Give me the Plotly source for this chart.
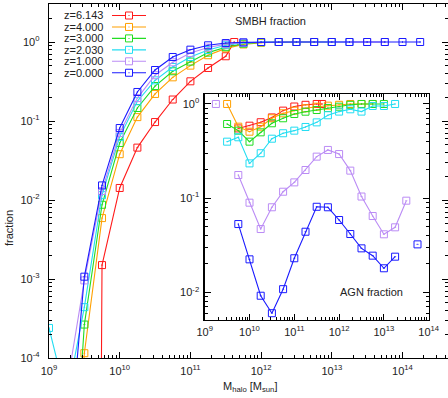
import plotly.graph_objects as go

# ---------------- data (log10 halo mass, fraction) ----------------
labels = ["z=6.143", "z=4.000", "z=3.000", "z=2.030", "z=1.000", "z=0.000"]
colors = ["#ff1a1a", "#ffa000", "#22dd22", "#22ddf2", "#bb8cf5", "#1a1aff"]

# main panel: SMBH fraction
smbh_m_z6 = [9.5, 9.75, 10.0, 10.25, 10.5, 10.75, 11.0, 11.25, 11.5, 11.62]
smbh_f_z6 = [1e-40, 1.5e-3, 0.0142, 0.046, 0.097, 0.187, 0.318, 0.469, 0.66, 1.0]

smbh_m_z4 = [9.25, 9.5, 9.75, 10.0, 10.25, 10.5, 10.75, 11.0, 11.25, 11.5, 11.75, 12.0, 12.25, 12.5, 12.75]
smbh_f_z4 = [1e-8, 1.15e-4, 5.9e-3, 0.038, 0.112, 0.22, 0.357, 0.502, 0.68, 0.83, 0.93, 0.98, 1.0, 1.0, 1.0]

smbh_m_z3 = [9.25, 9.5, 9.75, 10.0, 10.25, 10.5, 10.75, 11.0, 11.25, 11.5, 11.75, 12.0, 12.25, 12.5, 12.75, 13.0]
smbh_f_z3 = [1e-7, 2.65e-4, 8.7e-3, 0.0527, 0.146, 0.277, 0.426, 0.565, 0.734, 0.86, 0.95, 0.99, 1.0, 1.0, 1.0, 1.0]

smbh_m_z2 = [9.0, 9.25, 9.5, 9.75, 10.0, 10.25, 10.5, 10.75, 11.0, 11.25, 11.5, 11.75, 12.0, 12.25, 12.5, 12.75, 13.0, 13.25]
smbh_f_z2 = [2.4e-4, 3e-5, 4.4e-4, 0.0115, 0.063, 0.178, 0.327, 0.483, 0.646, 0.79, 0.91, 0.97, 1.0, 1.0, 1.0, 1.0, 1.0, 1.0]

smbh_m_z1 = [9.25, 9.5, 9.75, 10.0, 10.25, 10.5, 10.75, 11.0, 11.25, 11.5, 11.75, 12.0, 12.25, 12.5, 12.75, 13.0, 13.25, 13.5, 13.75]
smbh_f_z1 = [4.2e-5, 9.6e-4, 0.013, 0.0705, 0.195, 0.38, 0.553, 0.726, 0.85, 0.94, 0.98, 1.0, 1.0, 1.0, 1.0, 1.0, 1.0, 1.0, 1.0]

smbh_m_z0 = [9.25, 9.5, 9.75, 10.0, 10.25, 10.5, 10.75, 11.0, 11.25, 11.5, 11.75, 12.0, 12.25, 12.5, 12.75, 13.0, 13.25, 13.5, 13.75, 14.0, 14.25]
smbh_f_z0 = [2.85e-6, 1.07e-3, 0.0153, 0.0815, 0.233, 0.442, 0.646, 0.80, 0.908, 0.97, 0.99, 1.0, 1.0, 1.0, 1.0, 1.0, 1.0, 1.0, 1.0, 1.0, 1.0]

# inset: AGN fraction
agn_m_z6 = [9.75, 10.0, 10.25, 10.5, 10.75, 11.0, 11.25, 11.5, 11.62]
agn_f_z6 = [0.55, 0.588, 0.64, 0.72, 0.85, 0.94, 0.98, 1.0, 1.0]

agn_m_z4 = [9.5, 9.75, 10.0, 10.25, 10.5, 10.75, 11.0, 11.25, 11.5, 11.75, 12.0, 12.25, 12.5, 12.75]
agn_f_z4 = [1.0, 0.574, 0.508, 0.574, 0.705, 0.796, 0.849, 0.90, 0.936, 0.96, 0.98, 1.0, 1.0, 1.0]

agn_m_z3 = [9.5, 9.75, 10.0, 10.25, 10.5, 10.75, 11.0, 11.25, 11.5, 11.75, 12.0, 12.25, 12.5, 12.75, 13.0]
agn_f_z3 = [0.613, 0.521, 0.398, 0.50, 0.624, 0.705, 0.783, 0.828, 0.863, 0.907, 0.936, 0.98, 1.0, 1.0, 1.0]

agn_m_z2 = [9.5, 9.75, 10.0, 10.25, 10.5, 10.75, 11.0, 11.25, 11.5, 11.75, 12.0, 12.25, 12.5, 12.75, 13.0, 13.25]
agn_f_z2 = [0.398, 0.443, 0.234, 0.30, 0.428, 0.489, 0.521, 0.57, 0.638, 0.759, 0.83, 0.878, 0.83, 0.952, 0.952, 1.0]

agn_m_z1 = [9.25, 9.5, 9.75, 10.0, 10.25, 10.5, 10.75, 11.0, 11.25, 11.5, 11.75, 12.0, 12.25, 12.5, 12.75, 13.0, 13.25, 13.5]
agn_f_z1 = [1.0, None, 0.176, 0.0895, 0.047, 0.080, 0.117, 0.147, 0.199, 0.276, 0.325, 0.294, 0.196, 0.104, 0.0646, 0.0413, 0.049, 0.094]

agn_m_z0 = [9.75, 10.0, 10.25, 10.5, 10.75, 11.0, 11.25, 11.5, 11.75, 12.0, 12.25, 12.5, 12.75, 13.0, 13.25, 13.5, 13.75]
agn_f_z0 = [0.0531, 0.0224, 0.0092, 0.006, 0.0108, 0.023, 0.044, 0.081, 0.080, 0.0586, 0.0416, 0.0293, 0.0245, 0.018, 0.0239, None, 0.0323]

main_tick_exp = [9, 10, 11, 12, 13, 14]
main_ytick_exp = [-4, -3, -2, -1, 0]
inset_tick_exp = [9, 10, 11, 12, 13, 14]
inset_ytick_exp = [-2, -1, 0]

smbh_sets = [(smbh_m_z6, smbh_f_z6), (smbh_m_z4, smbh_f_z4), (smbh_m_z3, smbh_f_z3),
             (smbh_m_z2, smbh_f_z2), (smbh_m_z1, smbh_f_z1), (smbh_m_z0, smbh_f_z0)]
agn_sets = [(agn_m_z6, agn_f_z6), (agn_m_z4, agn_f_z4), (agn_m_z3, agn_f_z3),
            (agn_m_z2, agn_f_z2), (agn_m_z1, agn_f_z1), (agn_m_z0, agn_f_z0)]

FONT = "Liberation Sans, Arial, sans-serif"
W, H = 448, 398
L, R, T, B = 49, 0, 4, 40
PW, PH = W - L - R, H - T - B

fig = go.Figure()

mk = dict(symbol="square-open-dot", size=7, line=dict(width=1))
for (m, f), c, lab in zip(smbh_sets, colors, labels):
    fig.add_trace(go.Scatter(x=[10 ** v for v in m], y=f, mode="lines+markers",
                             line=dict(color=c, width=1.1), marker=dict(color=c, **mk),
                             name=lab, showlegend=False, hoverinfo="skip", xaxis="x", yaxis="y"))
for (m, f), c, lab in zip(agn_sets, colors, labels):
    fig.add_trace(go.Scatter(x=[10 ** v for v in m], y=f, mode="lines+markers",
                             line=dict(color=c, width=1.1), marker=dict(color=c, **mk),
                             name=lab, showlegend=False, connectgaps=False, hoverinfo="skip",
                             xaxis="x2", yaxis="y2"))


def minor_vals(lo, hi):
    out = []
    for e in range(lo, hi + 1):
        for k in range(2, 10):
            out.append(k * 10 ** e)
    return out


def sup(e):
    return "10<sup>%d</sup>" % e


axcommon = dict(type="log", showline=True, linecolor="black", linewidth=1.3,
                mirror="ticks", ticks="inside", ticklen=6, tickwidth=1, tickcolor="black",
                showgrid=False, zeroline=False, automargin=False,
                tickfont=dict(family=FONT, size=11, color="#222"))

fig.update_layout(
    width=W, height=H, autosize=False,
    margin=dict(l=L, r=R, t=T, b=B, pad=0, autoexpand=False),
    paper_bgcolor="white", plot_bgcolor="white",
    showlegend=False,
    xaxis=dict(axcommon, range=[9, 9 + PW / 70.7], domain=[0, 1], anchor="y",
               tickvals=[10 ** e for e in main_tick_exp], ticktext=[sup(e) for e in main_tick_exp],
               minor=dict(ticks="inside", ticklen=3, tickcolor="black", tickvals=minor_vals(9, 14)),
               ticklabelstandoff=2),
    yaxis=dict(axcommon, range=[-4, -4 + PH / 79.0], domain=[0, 1], anchor="x",
               tickvals=[10 ** e for e in main_ytick_exp], ticktext=[sup(e) for e in main_ytick_exp],
               minor=dict(ticks="inside", ticklen=3, tickcolor="black", tickvals=minor_vals(-4, 0)),
               ticklabelstandoff=6),
    xaxis2=dict(axcommon, range=[9, 14], domain=[(204.7 - L) / PW, (428.7 - L) / PW], anchor="y2",
                tickvals=[10 ** e for e in inset_tick_exp], ticktext=[sup(e) for e in inset_tick_exp],
                minor=dict(ticks="inside", ticklen=3, tickcolor="black", tickvals=minor_vals(9, 13)),
                ticklabelstandoff=1),
    yaxis2=dict(axcommon, range=[-2.294, 0.106], domain=[(H - B - 320) / PH, (H - B - 94) / PH], anchor="x2",
                tickvals=[10 ** e for e in inset_ytick_exp], ticktext=[sup(e) for e in inset_ytick_exp],
                minor=dict(ticks="inside", ticklen=3, tickcolor="black", tickvals=minor_vals(-3, 0)),
                ticklabelstandoff=2),
)


def px(xp):
    return (xp - L) / PW


def py(yp):
    return (H - B - yp) / PH


TF = dict(family=FONT, size=11, color="#222")
ann = []
shapes = []
ann.append(dict(text="fraction", x=px(9), y=py(228), xref="paper", yref="paper", textangle=-90,
                xanchor="center", yanchor="middle", showarrow=False, font=TF))
ann.append(dict(text="M<sub>halo</sub> [M<sub>sun</sub>]", x=px(250), y=py(387), xref="paper", yref="paper",
                xanchor="center", yanchor="middle", showarrow=False, font=TF))
ann.append(dict(text="SMBH fraction", x=px(270), y=py(21), xref="paper", yref="paper",
                xanchor="center", yanchor="middle", showarrow=False, font=TF))
ann.append(dict(text="AGN fraction", x=px(371.5), y=py(291.5), xref="paper", yref="paper",
                xanchor="center", yanchor="middle", showarrow=False, font=TF))

for i, (lab, c) in enumerate(zip(labels, colors)):
    yy = 15.5 + 11.45 * i
    ann.append(dict(text=lab, x=px(105), y=py(yy), xref="paper", yref="paper", xanchor="right",
                    yanchor="middle", showarrow=False, font=TF))
    shapes.append(dict(type="line", xref="paper", yref="paper", x0=px(112), x1=px(146), y0=py(yy), y1=py(yy),
                       line=dict(color=c, width=1.1)))
    shapes.append(dict(type="rect", xref="paper", yref="paper", x0=px(125.5), x1=px(132.5),
                       y0=py(yy + 3.5), y1=py(yy - 3.5), line=dict(color=c, width=1), fillcolor="white"))
    shapes.append(dict(type="rect", xref="paper", yref="paper", x0=px(128.5), x1=px(129.5),
                       y0=py(yy + 0.5), y1=py(yy - 0.5), line=dict(color=c, width=0), fillcolor=c))

fig.update_layout(annotations=ann, shapes=shapes)
fig.write_html("out.html", config={"displayModeBar": False, "staticPlot": True},
               post_script="document.body.style.margin='0px';document.body.style.overflow='hidden';")
